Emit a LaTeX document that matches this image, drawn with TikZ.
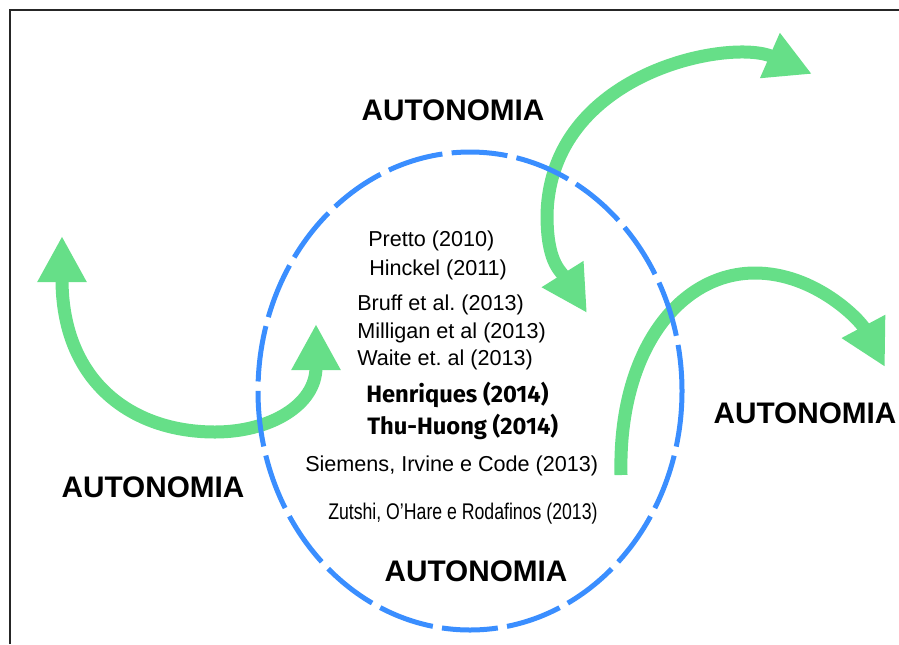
\documentclass[tikz,border=0pt]{standalone}
\usepackage{fontspec}
\usepackage{graphicx}
\setmainfont{Liberation Sans}
\newfontfamily\humfont{Fira Sans}
\usetikzlibrary{arrows.meta}
\definecolor{arrowgreen}{HTML}{66DF88}
\definecolor{ringblue}{HTML}{3A8EFF}
\tikzstyle{bigarrow}  = [line width=9.75pt, draw=arrowgreen, >={Triangle[length=34.5pt,width=34.5pt]}]
\tikzstyle{ring}      = [line width=3.75pt, draw=ringblue, dash pattern=on 42pt off 7pt]
\frenchspacing

\begin{document}
\begin{tikzpicture}[x=0.75pt, y=-0.75pt,
			ref/.style={anchor=west, inner sep=0pt, font=\fontsize{16.2}{19}\selectfont},
			refbold/.style={anchor=west, inner sep=0pt, font=\humfont\bfseries\fontsize{17.8}{21}\selectfont},
			autolabel/.style={inner sep=0pt, font=\bfseries\fontsize{22.3}{27}\selectfont}]

		\useasboundingbox (0,0) rectangle (899,644);
		\draw[line width=1.5pt, black!85] (10,644) -- (10,10) -- (899,10);

		\draw[bigarrow,<->] (62,236) .. controls (62,380) and (130,432) .. (215,432)
			.. controls (270,432) and (316,405) .. (316,324);
		\draw[bigarrow,<->] (812,74) .. controls (730,38) and (550,72) .. (547,215)
			.. controls (547,262) and (560,270) .. (587,313);
		\draw[bigarrow,->] (621,475) .. controls (618,350) and (680,273) .. (755,273)
			.. controls (815,273) and (860,320) .. (885,367);

		\draw[ring] (470,391) ellipse [x radius=212, y radius=239];

		\draw (453,110) node[autolabel] (autotop) {AUTONOMIA};
		\draw (153,487) node[autolabel] (autoleft) {AUTONOMIA};
		\draw (805,413) node[autolabel] (autoright) {AUTONOMIA};
		\draw (476,571) node[autolabel] (autobottom) {AUTONOMIA};

		\draw (368,241) node[ref] (pretto) {Pretto (2010)};
		\draw (369,270) node[ref] (hinckel) {Hinckel (2011)};
		\draw (357,305) node[ref] (bruff) {Bruff et al. (2013)};
		\draw (357,333) node[ref] (milligan) {Milligan et al (2013)};
		\draw (357,360) node[ref] (waite) {Waite et. al (2013)};
		\draw (366,395) node[refbold] (henriques) {Henriques (2014)};
		\draw (367,427) node[refbold] (thuhuong) {Thu-Huong (2014)};
		\draw (305,466) node[ref] (siemens) {Siemens, Irvine e Code (2013)};
		\draw (328,514) node[ref] (zutshi) {\fontsize{17}{20}\selectfont\scalebox{0.78}[1]{Zutshi, O'Hare e Rodafinos (2013)}};
	\end{tikzpicture}
\end{document}
